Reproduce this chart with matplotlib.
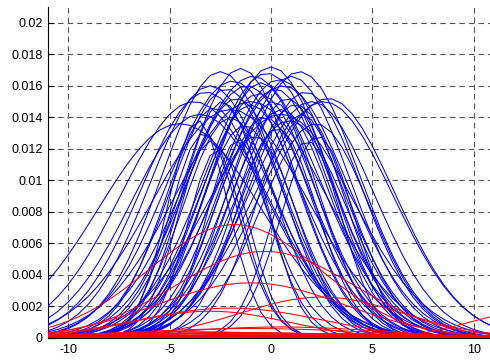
import numpy as np
import matplotlib
matplotlib.use("Agg")
import matplotlib.pyplot as plt

plt.rcParams["font.family"] = ["Liberation Sans", "DejaVu Sans"]
plt.rcParams["axes.unicode_minus"] = False

# Sample grid for every curve
x_start, x_stop, x_step = -11.0, 11.0, 0.5

# Blue components: centre, peak height, spread
blue_center = [-4.5, -3.8, -3.5, -3.2, -3.0, -2.8, -2.5, -2.4, -2.2, -2.0,
               -1.9, -1.7, -1.5, -1.3, -1.2, -1.0, -0.9, -0.8, -0.6, -0.5,
               -0.3, -0.2, 0.0, 0.1, 0.2, 0.3, 0.4, 0.5, 0.6, 0.8,
               0.9, 1.0, 1.2, 1.4, 1.5, 1.7, 2.0, 2.2, 2.6, 2.8,
               -3.3, -3.0, -2.6, 1.8, 2.3, -2.0, -1.0, 0.5, -3.6, -1.6]
blue_peak = [0.0136, 0.0150, 0.0142, 0.0156, 0.0160, 0.0146, 0.0169, 0.0150, 0.0158, 0.0140,
             0.0163, 0.0152, 0.0171, 0.0135, 0.0160, 0.0148, 0.0166, 0.0128, 0.0155, 0.0162,
             0.0140, 0.0168, 0.0172, 0.0150, 0.0158, 0.0133, 0.0164, 0.0145, 0.0160, 0.0152,
             0.0138, 0.0166, 0.0148, 0.0169, 0.0142, 0.0156, 0.0150, 0.0136, 0.0150, 0.0152,
             0.0130, 0.0125, 0.0120, 0.0125, 0.0128, 0.0145, 0.0150, 0.0142, 0.0138, 0.0126]
blue_spread = [4.0, 3.6, 3.4, 3.2, 3.0, 2.4, 2.9, 2.0, 2.7, 2.3,
               3.2, 2.6, 2.7, 2.2, 3.0, 2.5, 3.3, 2.1, 2.8, 2.6,
               2.4, 3.1, 2.9, 2.3, 2.7, 2.0, 3.0, 2.5, 3.2, 2.4,
               2.8, 2.9, 2.6, 3.0, 2.2, 2.8, 3.1, 2.7, 3.4, 3.3,
               1.7, 1.6, 1.5, 1.7, 1.8, 3.8, 3.7, 3.6, 1.5, 1.6]

# Red components: centre, peak height, spread
red_center = [-1.8, -0.3, -1.0, 2.5, -2.0, -3.0, 12.5, 0.5, -1.0,
              -4.0, -2.0, 0.0, 2.0, 4.0, -6.0, -1.0, 1.0, 3.0, -3.0, 5.0, 0.0, -8.0]
red_peak = [0.0072, 0.0055, 0.0035, 0.0026, 0.0019, 0.0017, 0.0016, 0.0007, 0.0006,
            0.0004, 0.00035, 0.0003, 0.00028, 0.00025, 0.0003, 0.0002, 0.00018,
            0.00015, 0.00012, 0.0001, 0.00008, 0.00025]
red_spread = [4.2, 4.4, 4.6, 4.0, 4.5, 3.8, 2.8, 5.0, 6.0,
              5.0, 6.0, 7.0, 6.0, 5.0, 5.0, 8.0, 8.0, 7.0, 6.0, 6.0, 9.0, 4.0]

x_ticks = [-10, -5, 0, 5, 10]
y_ticks = [0, 0.002, 0.004, 0.006, 0.008, 0.01, 0.012, 0.014, 0.016, 0.018, 0.02]
y_tick_labels = ["0", "0.002", "0.004", "0.006", "0.008", "0.01", "0.012",
                 "0.014", "0.016", "0.018", "0.02"]

x = np.arange(x_start, x_stop + x_step / 2, x_step)


def bump(c, h, s):
    return h * np.exp(-0.5 * ((x - c) / s) ** 2)


fig = plt.figure(figsize=(4.9, 3.6), dpi=100)
ax = fig.add_axes([48 / 490, 22 / 360, 446 / 490, 331 / 360])

for c, h, s in zip(blue_center, blue_peak, blue_spread):
    ax.plot(x, bump(c, h, s), color=(0, 0, 1), lw=0.75, zorder=3)
for c, h, s in zip(red_center, red_peak, red_spread):
    ax.plot(x, bump(c, h, s), color=(1, 0, 0), lw=0.75, zorder=4)

ax.set_xlim(-11, 11)
ax.set_ylim(0, 0.021)
ax.set_xticks(x_ticks)
ax.set_xticklabels([str(t) for t in x_ticks])
ax.set_yticks(y_ticks)
ax.set_yticklabels(y_tick_labels)

ax.grid(True, color="#555555", linestyle=(0, (5.0, 3.6)), linewidth=0.8, zorder=1)
ax.set_axisbelow(True)
ax.spines["top"].set_visible(False)
ax.spines["right"].set_visible(False)
ax.spines["left"].set_linewidth(0.8)
ax.spines["bottom"].set_linewidth(0.8)
ax.tick_params(direction="in", length=4, width=0.8, labelsize=9, pad=4)

fig.savefig("out.png", dpi=100)
